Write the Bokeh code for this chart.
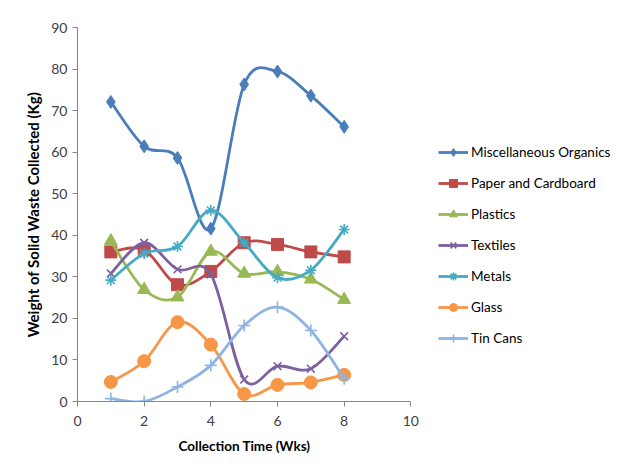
from bokeh.plotting import figure
from bokeh.models import Range1d, Legend, LegendItem, FixedTicker, ColumnDataSource, Title
from bokeh.embed import file_html
from bokeh.resources import INLINE

weeks = [1, 2, 3, 4, 5, 6, 7, 8]
misc_organics = [72.1, 61.4, 58.6, 41.6, 76.3, 79.4, 73.6, 66.1]
paper_cardboard = [36.0, 36.5, 28.1, 31.3, 38.2, 37.8, 36.0, 34.8]
plastics = [38.6, 26.9, 25.1, 36.1, 30.8, 31.2, 29.4, 24.5]
textiles = [30.8, 38.2, 31.8, 30.6, 5.3, 8.5, 7.9, 15.7]
metals = [29.2, 35.6, 37.3, 46.0, 38.2, 29.8, 31.6, 41.4]
glass = [4.7, 9.7, 19.1, 13.7, 1.8, 4.0, 4.6, 6.4]
tin_cans = [0.7, 0.0, 3.5, 8.7, 18.3, 22.7, 17.1, 5.5]

series_names = ["Miscellaneous Organics", "Paper and Cardboard", "Plastics",
                "Textiles", "Metals", "Glass", "Tin Cans"]
series_values = [misc_organics, paper_cardboard, plastics, textiles, metals, glass, tin_cans]
colors = ["#4A7EBB", "#BE4B48", "#98B954", "#7D60A0", "#46AAC5", "#F79646", "#8EB4E3"]
markers = ["diamond", "square", "triangle", "x", "asterisk", "circle", "cross"]
marker_sizes = [13, 12, 13, 11, 11, 13, 12]

x_ticks = [0, 2, 4, 6, 8, 10]
y_ticks = [0, 10, 20, 30, 40, 50, 60, 70, 80, 90]
x_axis_span = (0, 10)
x_title = "Collection Time (Wks)"
y_title = "Weight of Solid Waste Collected (Kg)"

FONT = "Lato"

# frame spans 77..617 px; the x axis itself is bounded to 0..10 (77..410 px)
p = figure(width=617, height=470, output_backend="svg", toolbar_location=None,
           x_range=Range1d(0, 16.2), y_range=Range1d(0, 90),
           min_border_left=77, min_border_right=0, min_border_top=27, min_border_bottom=69)
p.outline_line_color = None
p.grid.visible = False
p.background_fill_color = "white"
p.border_fill_color = "white"

for ax in (p.xaxis[0], p.yaxis[0]):
    ax.axis_line_color = "#868686"
    ax.major_tick_line_color = "#868686"
    ax.minor_tick_line_color = None
    ax.major_tick_in = 0
    ax.major_tick_out = 5
    ax.major_label_text_font = FONT
    ax.major_label_text_font_size = "14px"
    ax.major_label_text_color = "#404040"
    ax.axis_label_text_font = FONT
    ax.axis_label_text_font_style = "bold"
    ax.axis_label_text_color = "#000000"

p.xaxis[0].bounds = x_axis_span
p.yaxis[0].axis_label_text_font_size = "15px"
p.xaxis[0].ticker = FixedTicker(ticks=x_ticks)
p.yaxis[0].ticker = FixedTicker(ticks=y_ticks)
p.yaxis[0].axis_label = y_title
p.xaxis[0].major_label_standoff = 9
p.yaxis[0].major_label_standoff = 5
p.yaxis[0].axis_label_standoff = 6

xt = Title(text=x_title, align="left", offset=101, standoff=15,
           text_font=FONT, text_font_size="13.5px", text_font_style="bold",
           text_color="#000000")
p.add_layout(xt, "below")


def smooth_segments(xs, ys):
    n = len(xs)
    x0, y0, x1, y1, cx0, cy0, cx1, cy1 = [], [], [], [], [], [], [], []
    for i in range(n - 1):
        ip = max(i - 1, 0)
        inn = min(i + 2, n - 1)
        x0.append(xs[i]); y0.append(ys[i])
        x1.append(xs[i + 1]); y1.append(ys[i + 1])
        cx0.append(xs[i] + (xs[i + 1] - xs[ip]) / 6.0)
        cy0.append(ys[i] + (ys[i + 1] - ys[ip]) / 6.0)
        cx1.append(xs[i + 1] - (xs[inn] - xs[i]) / 6.0)
        cy1.append(ys[i + 1] - (ys[inn] - ys[i]) / 6.0)
    return dict(x0=x0, y0=y0, x1=x1, y1=y1, cx0=cx0, cy0=cy0, cx1=cx1, cy1=cy1)


items = []
for name, vals, col, mk, sz in zip(series_names, series_values, colors, markers, marker_sizes):
    seg = ColumnDataSource(smooth_segments(weeks, vals))
    curve = p.bezier(x0="x0", y0="y0", x1="x1", y1="y1", cx0="cx0", cy0="cy0",
                     cx1="cx1", cy1="cy1", source=seg, line_color=col, line_width=2.8)
    if mk in ("x", "asterisk", "cross"):
        r = p.scatter(weeks, vals, marker=mk, size=sz, line_color=col, line_width=1.6,
                      fill_color=None)
    else:
        r = p.scatter(weeks, vals, marker=mk, size=sz, line_color=col, fill_color=col)
    items.append(LegendItem(label=name, renderers=[curve, r]))

legend = Legend(items=items, location=(361, 53), orientation="vertical",
                glyph_width=30, glyph_height=20, label_height=20, spacing=11,
                label_standoff=3, padding=0, margin=0,
                label_text_font=FONT, label_text_font_size="13.5px",
                label_text_color="#000000",
                background_fill_alpha=0, border_line_color=None)
p.add_layout(legend, "center")

open("out.html", "w").write(file_html(p, INLINE))
